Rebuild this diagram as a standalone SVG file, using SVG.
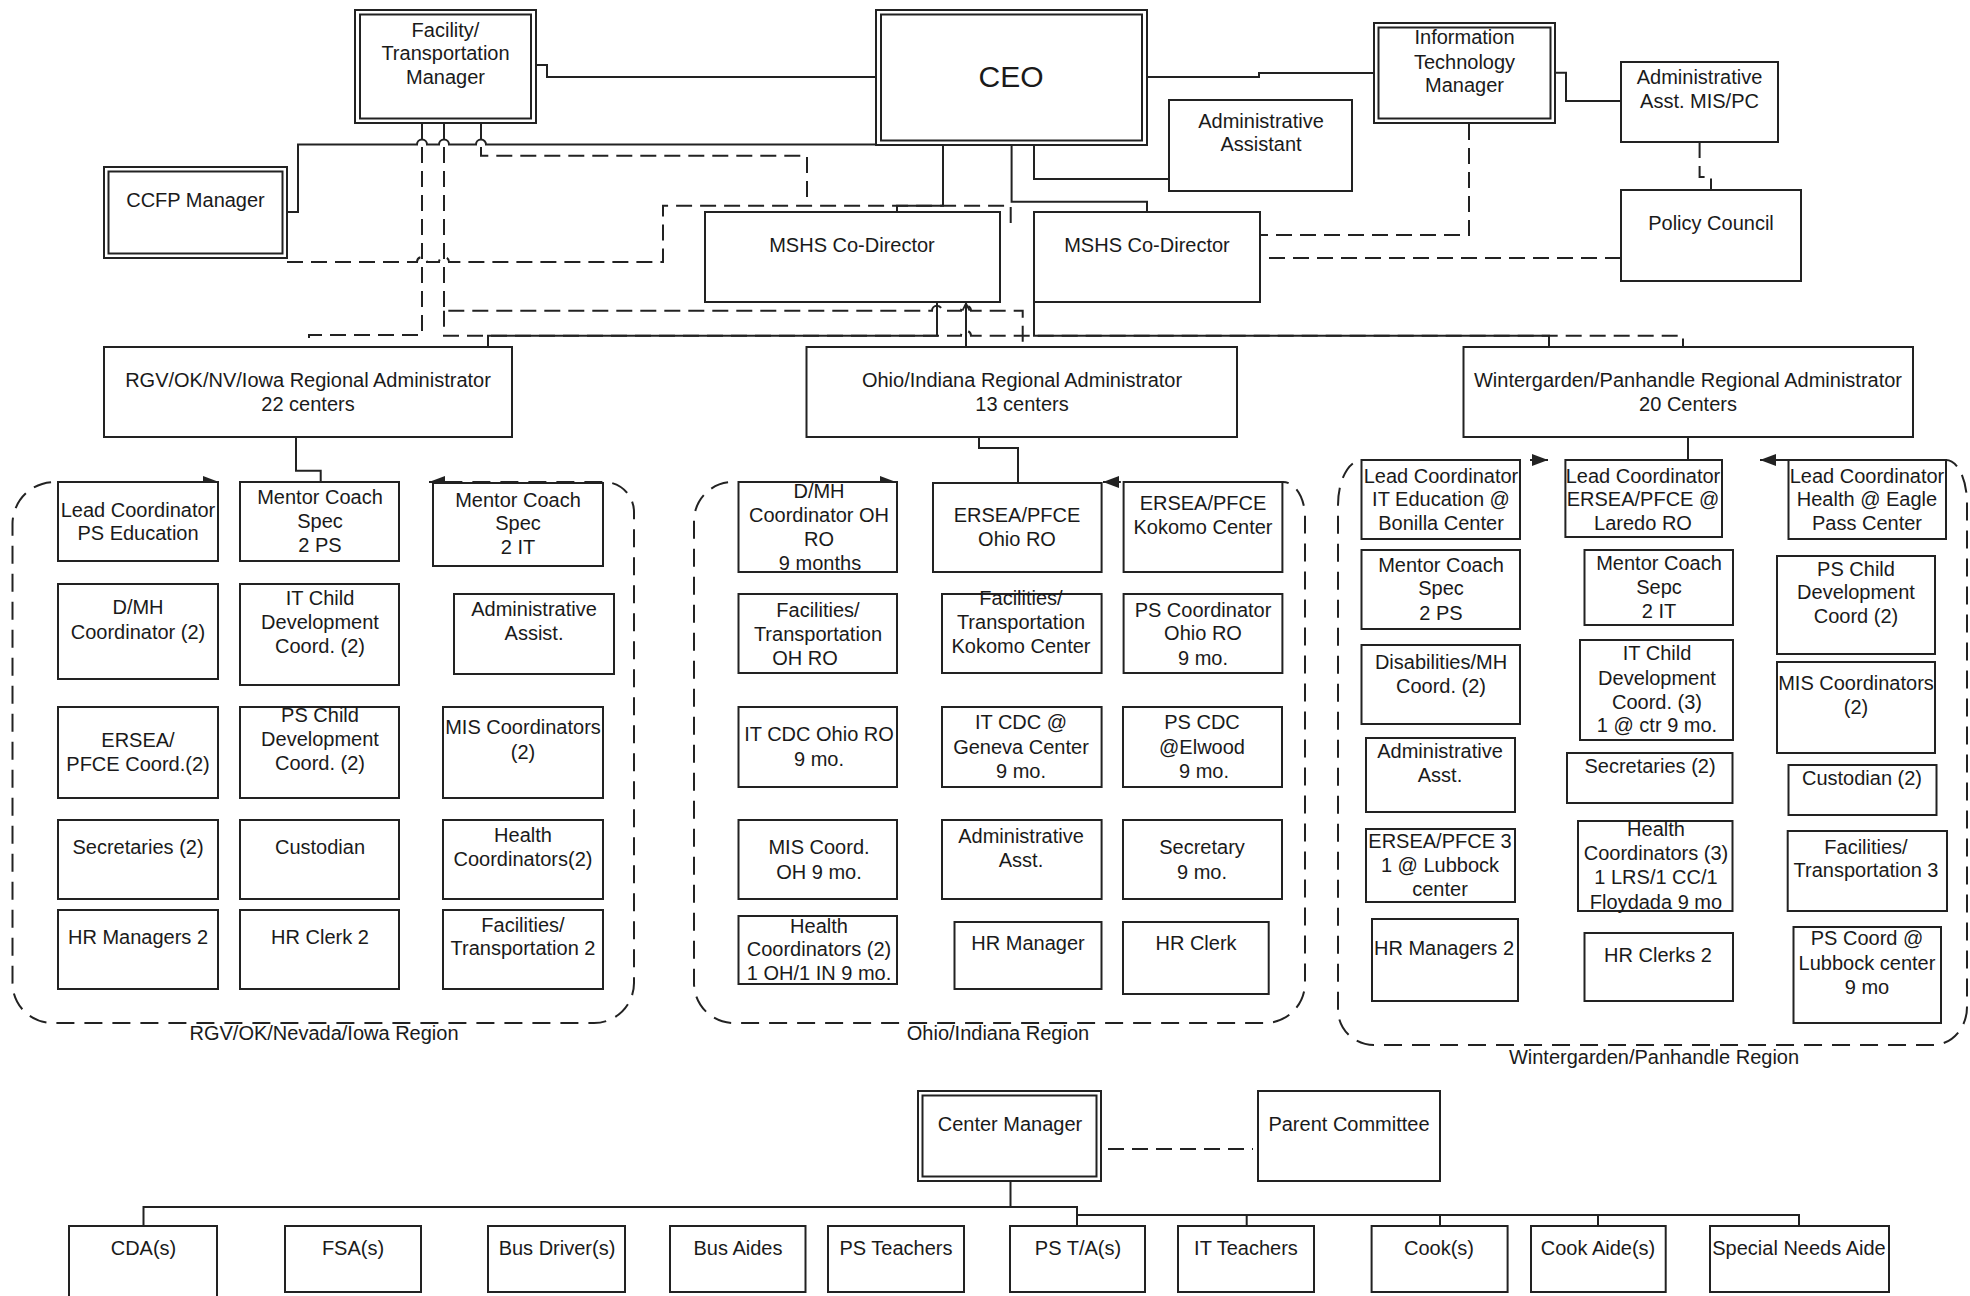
<svg xmlns="http://www.w3.org/2000/svg" width="1970" height="1296" viewBox="0 0 1970 1296">
<style>
.box{fill:#fff;stroke:#222;stroke-width:2}
.in{fill:none;stroke:#222;stroke-width:2}
.t{font-family:"Liberation Sans",Arial,sans-serif;font-size:20px;fill:#1a1a1a;text-anchor:middle}
.c{fill:none;stroke:#222;stroke-width:2}
.d{fill:none;stroke:#222;stroke-width:2;stroke-dasharray:16 8}
.r{fill:none;stroke:#222;stroke-width:2;stroke-dasharray:18 10}
</style>
<defs>
<marker id="tri" viewBox="0 0 10 10" refX="10" refY="5" markerWidth="16" markerHeight="12" markerUnits="userSpaceOnUse" orient="auto-start-reverse" preserveAspectRatio="none"><path d="M0,0 L10,5 L0,10 z" fill="#222"/></marker>
<marker id="chev" viewBox="0 0 10 10" refX="9" refY="5" markerWidth="9" markerHeight="9" markerUnits="userSpaceOnUse" orient="auto"><path d="M1,1 L9,5 L1,9" fill="none" stroke="#222" stroke-width="2"/></marker>
</defs>
<rect width="1970" height="1296" fill="#fff"/>

<g id="regions">
<g id="region-rgv"><path class="r" d="M219 482 H55 A42 42 0 0 0 12.5 524 V983 A40 40 0 0 0 52.5 1023 H594 A40 40 0 0 0 634 983 V512 A30 30 0 0 0 604 482 H429" marker-start="url(#tri)" marker-end="url(#tri)"/><text class="t" x="324" y="1040">RGV/OK/Nevada/Iowa Region</text></g>
<g id="region-ohio"><path class="r" d="M896 482 H733 A39 39 0 0 0 694 521 V983 A40 40 0 0 0 734 1023 H1265 A40 40 0 0 0 1305 983 V517 A22 35 0 0 0 1283 482 H1103" marker-start="url(#tri)" marker-end="url(#tri)"/><text class="t" x="998" y="1040">Ohio/Indiana Region</text></g>
<g id="region-winter"><path class="r" d="M1548 460 H1362 A24 45 0 0 0 1338 505 V1010 A36 35 0 0 0 1374 1045 H1933 A34 38 0 0 0 1967 1007 V503 A21 43 0 0 0 1946 460 H1760" marker-start="url(#tri)" marker-end="url(#tri)"/><text class="t" x="1654" y="1064">Wintergarden/Panhandle Region</text></g>
</g>

<g id="connectors">
<path class="c" d="M536 65 H547 V77 H876"/>
<path class="c" d="M287 212 H298 V144.5 H417 a5 5 0 0 1 10 0 H439 a5 5 0 0 1 10 0 H476 a5 5 0 0 1 10 0 H876"/>
<path class="c" d="M943 145 V205.7 H897 V212"/>
<path class="c" d="M1011.6 145 V201.7 H1147 V212"/>
<path class="c" d="M1034 145 V179 H1169"/>
<path class="c" d="M1147 77 H1259 V73 H1374"/>
<path class="c" d="M1555 72.7 H1566 V101 H1621"/>
<path class="c" d="M937 302 V335.7 H488 V347"/>
<path class="c" d="M1034 302 V335.7 H1549 V347"/>
<path class="c" d="M966 350 V303.5" marker-end="url(#chev)"/>
<path class="c" d="M296 437 V470.7 H320.7 V482"/>
<path class="c" d="M979 437 V448 H1018 V483"/>
<path class="c" d="M1688 437 V460"/>
<path class="c" d="M1010.5 1181 V1207 H143.5 V1226 M1010.5 1207 H1077 V1226 M1077 1215 H1799 V1226 M1246.7 1215 V1226 M1440 1215 V1226 M1598 1215 V1226"/>
<path class="d" d="M422 123 V335 H309 V347"/>
<path class="d" d="M444 123 V310.7 H932 a5 5 0 0 1 10 0 H961 a5 5 0 0 1 10 0 H1022.7 V347"/>
<path class="d" d="M444 310.7 V335.7 H961 a5 5 0 0 1 10 0 H1683 V347"/>
<path class="d" d="M287 262 H417 a5 5 0 0 1 10 0 H439 a5 5 0 0 1 10 0 H663 V205.7 H1010.7 V225"/>
<path class="d" d="M481 123 V155.7 H807 V205.7"/>
<path class="d" d="M1469 100 V235 H1260"/>
<path class="d" d="M1621 258 H1260"/>
<path class="d" d="M1699.6 142 V177 H1711 V190"/>
<path class="d" d="M1108 1149 H1253"/>
</g>

<g id="facility-manager"><rect class="box" x="355" y="10" width="181" height="113"/><rect class="in" x="360" y="14.5" width="171" height="104"/><text class="t"><tspan x="445.5" y="37">Facility/</tspan><tspan x="445.5" y="60">Transportation</tspan><tspan x="445.5" y="84">Manager</tspan></text></g>
<g id="ceo"><rect class="box" x="876" y="10" width="271" height="135"/><rect class="in" x="881" y="14.5" width="261" height="126"/><text class="t" style="font-size:30px" x="1011" y="87">CEO</text></g>
<g id="it-manager"><rect class="box" x="1374" y="23" width="181" height="100"/><rect class="in" x="1378.5" y="27.5" width="172" height="91"/><text class="t"><tspan x="1464.5" y="44">Information</tspan><tspan x="1464.5" y="69">Technology</tspan><tspan x="1464.5" y="92">Manager</tspan></text></g>
<g id="admin-asst-mis"><rect class="box" x="1621" y="62" width="157" height="80"/><text class="t"><tspan x="1699.5" y="84">Administrative</tspan><tspan x="1699.5" y="108">Asst. MIS/PC</tspan></text></g>
<g id="policy-council"><rect class="box" x="1621" y="190" width="180" height="91"/><text class="t" x="1711" y="230">Policy Council</text></g>
<g id="admin-assistant"><rect class="box" x="1169" y="100" width="183" height="91"/><text class="t"><tspan x="1261" y="128">Administrative</tspan><tspan x="1261" y="151">Assistant</tspan></text></g>
<g id="ccfp-manager"><rect class="box" x="104" y="167" width="183" height="91"/><rect class="in" x="108.5" y="171.5" width="174" height="82"/><text class="t" x="195.5" y="207">CCFP Manager</text></g>
<g id="mshs-codirector-1"><rect class="box" x="705" y="212" width="295" height="90"/><text class="t" x="852" y="252">MSHS Co-Director</text></g>
<g id="mshs-codirector-2"><rect class="box" x="1034" y="212" width="226" height="90"/><text class="t" x="1147" y="252">MSHS Co-Director</text></g>

<g id="rgv-admin"><rect class="box" x="104" y="347" width="408" height="90"/><text class="t"><tspan x="308" y="387">RGV/OK/NV/Iowa Regional Administrator</tspan><tspan x="308" y="411">22 centers</tspan></text></g>
<g id="ohio-admin"><rect class="box" x="806.5" y="347" width="430.5" height="90"/><text class="t"><tspan x="1022" y="387">Ohio/Indiana Regional Administrator</tspan><tspan x="1022" y="411">13 centers</tspan></text></g>
<g id="winter-admin"><rect class="box" x="1463.5" y="347" width="449.5" height="90"/><text class="t"><tspan x="1688" y="387">Wintergarden/Panhandle Regional Administrator</tspan><tspan x="1688" y="411">20 Centers</tspan></text></g>

<g id="rgv-lead-ps"><rect class="box" x="58" y="482" width="160" height="79"/><text class="t"><tspan x="138" y="517">Lead Coordinator</tspan><tspan x="138" y="540">PS Education</tspan></text></g>
<g id="rgv-mentor-ps"><rect class="box" x="240" y="482" width="159" height="79"/><text class="t"><tspan x="320" y="504">Mentor Coach</tspan><tspan x="320" y="528">Spec</tspan><tspan x="320" y="552">2 PS</tspan></text></g>
<g id="rgv-mentor-it"><rect class="box" x="433" y="483" width="170" height="83"/><text class="t"><tspan x="518" y="507">Mentor Coach</tspan><tspan x="518" y="530">Spec</tspan><tspan x="518" y="554">2 IT</tspan></text></g>
<g id="rgv-dmh"><rect class="box" x="58" y="584" width="160" height="95"/><text class="t"><tspan x="138" y="614">D/MH</tspan><tspan x="138" y="639">Coordinator (2)</tspan></text></g>
<g id="rgv-itcd"><rect class="box" x="240" y="584" width="159" height="101"/><text class="t"><tspan x="320" y="605">IT Child</tspan><tspan x="320" y="629">Development</tspan><tspan x="320" y="653">Coord. (2)</tspan></text></g>
<g id="rgv-admin-assist"><rect class="box" x="454" y="594" width="160" height="80"/><text class="t"><tspan x="534" y="616">Administrative</tspan><tspan x="534" y="640">Assist.</tspan></text></g>
<g id="rgv-ersea"><rect class="box" x="58" y="707" width="160" height="91"/><text class="t"><tspan x="138" y="747">ERSEA/</tspan><tspan x="138" y="771">PFCE Coord.(2)</tspan></text></g>
<g id="rgv-pscd"><rect class="box" x="240" y="707" width="159" height="91"/><text class="t"><tspan x="320" y="722">PS Child</tspan><tspan x="320" y="746">Development</tspan><tspan x="320" y="770">Coord. (2)</tspan></text></g>
<g id="rgv-mis"><rect class="box" x="443" y="707" width="160" height="91"/><text class="t"><tspan x="523" y="734">MIS Coordinators</tspan><tspan x="523" y="759">(2)</tspan></text></g>
<g id="rgv-secretaries"><rect class="box" x="58" y="820" width="160" height="79"/><text class="t" x="138" y="854">Secretaries (2)</text></g>
<g id="rgv-custodian"><rect class="box" x="240" y="820" width="159" height="79"/><text class="t" x="320" y="854">Custodian</text></g>
<g id="rgv-health"><rect class="box" x="443" y="820" width="160" height="79"/><text class="t"><tspan x="523" y="842">Health</tspan><tspan x="523" y="866">Coordinators(2)</tspan></text></g>
<g id="rgv-hr-managers"><rect class="box" x="58" y="910" width="160" height="79"/><text class="t" x="138" y="944">HR Managers 2</text></g>
<g id="rgv-hr-clerk"><rect class="box" x="240" y="910" width="159" height="79"/><text class="t" x="320" y="944">HR Clerk 2</text></g>
<g id="rgv-facilities"><rect class="box" x="443" y="910" width="160" height="79"/><text class="t"><tspan x="523" y="932">Facilities/</tspan><tspan x="523" y="955">Transportation 2</tspan></text></g>

<g id="oh-dmh"><rect class="box" x="738.5" y="482" width="158.5" height="90"/><text class="t"><tspan x="819" y="498">D/MH</tspan><tspan x="819" y="522">Coordinator OH</tspan><tspan x="819" y="546">RO</tspan><tspan x="820" y="570">9 months</tspan></text></g>
<g id="oh-ersea-ro"><rect class="box" x="933" y="483" width="168.6" height="89"/><text class="t"><tspan x="1017" y="522">ERSEA/PFCE</tspan><tspan x="1017" y="546">Ohio RO</tspan></text></g>
<g id="oh-ersea-kokomo"><rect class="box" x="1123.6" y="482" width="158.8" height="90"/><text class="t"><tspan x="1203" y="510">ERSEA/PFCE</tspan><tspan x="1203" y="534">Kokomo Center</tspan></text></g>
<g id="oh-facilities-ro"><rect class="box" x="738.5" y="594" width="158.5" height="79"/><text class="t"><tspan x="818" y="617">Facilities/</tspan><tspan x="818" y="641">Transportation</tspan><tspan x="805" y="665">OH RO</tspan></text></g>
<g id="oh-facilities-kokomo"><rect class="box" x="942" y="594" width="159.6" height="79"/><text class="t"><tspan x="1021" y="605">Facilities/</tspan><tspan x="1021" y="629">Transportation</tspan><tspan x="1021" y="653">Kokomo Center</tspan></text></g>
<g id="oh-ps-coord"><rect class="box" x="1123.6" y="594" width="158.8" height="79"/><text class="t"><tspan x="1203" y="617">PS Coordinator</tspan><tspan x="1203" y="640">Ohio RO</tspan><tspan x="1203" y="665">9 mo.</tspan></text></g>
<g id="oh-itcdc-ro"><rect class="box" x="738.5" y="707" width="158.5" height="80"/><text class="t"><tspan x="819" y="741">IT CDC Ohio RO</tspan><tspan x="819" y="766">9 mo.</tspan></text></g>
<g id="oh-itcdc-geneva"><rect class="box" x="942" y="707" width="159.6" height="80"/><text class="t"><tspan x="1021" y="729">IT CDC @</tspan><tspan x="1021" y="754">Geneva Center</tspan><tspan x="1021" y="778">9 mo.</tspan></text></g>
<g id="oh-pscdc-elwood"><rect class="box" x="1123" y="707" width="159" height="80"/><text class="t"><tspan x="1202" y="729">PS CDC</tspan><tspan x="1202" y="754">@Elwood</tspan><tspan x="1204" y="778">9 mo.</tspan></text></g>
<g id="oh-mis"><rect class="box" x="738.5" y="820" width="158.5" height="79"/><text class="t"><tspan x="819" y="854">MIS Coord.</tspan><tspan x="819" y="879">OH 9 mo.</tspan></text></g>
<g id="oh-admin-asst"><rect class="box" x="942" y="820" width="159.6" height="79"/><text class="t"><tspan x="1021" y="843">Administrative</tspan><tspan x="1021" y="867">Asst.</tspan></text></g>
<g id="oh-secretary"><rect class="box" x="1123" y="820" width="159" height="79"/><text class="t"><tspan x="1202" y="854">Secretary</tspan><tspan x="1202" y="879">9 mo.</tspan></text></g>
<g id="oh-health"><rect class="box" x="738.5" y="916" width="158.5" height="68"/><text class="t"><tspan x="819" y="933">Health</tspan><tspan x="819" y="956">Coordinators (2)</tspan><tspan x="819" y="980">1 OH/1 IN 9 mo.</tspan></text></g>
<g id="oh-hr-manager"><rect class="box" x="954.5" y="922" width="147" height="67"/><text class="t" x="1028" y="950">HR Manager</text></g>
<g id="oh-hr-clerk"><rect class="box" x="1123" y="922" width="145.7" height="72"/><text class="t" x="1196" y="950">HR Clerk</text></g>

<g id="wp-lead-it"><rect class="box" x="1361.5" y="460" width="158.5" height="79"/><text class="t"><tspan x="1441" y="483">Lead Coordinator</tspan><tspan x="1441" y="506">IT Education @</tspan><tspan x="1441" y="530">Bonilla Center</tspan></text></g>
<g id="wp-lead-ersea"><rect class="box" x="1565.4" y="460" width="156.6" height="77"/><text class="t"><tspan x="1643" y="483">Lead Coordinator</tspan><tspan x="1643" y="506">ERSEA/PFCE @</tspan><tspan x="1643" y="530">Laredo RO</tspan></text></g>
<g id="wp-lead-health"><rect class="box" x="1788.5" y="460" width="157.5" height="79"/><text class="t"><tspan x="1867" y="483">Lead Coordinator</tspan><tspan x="1867" y="506">Health @ Eagle</tspan><tspan x="1867" y="530">Pass Center</tspan></text></g>
<g id="wp-mentor-ps"><rect class="box" x="1361.5" y="550" width="158.5" height="79"/><text class="t"><tspan x="1441" y="572">Mentor Coach</tspan><tspan x="1441" y="595">Spec</tspan><tspan x="1441" y="620">2 PS</tspan></text></g>
<g id="wp-mentor-it"><rect class="box" x="1584.5" y="550" width="148.5" height="75"/><text class="t"><tspan x="1659" y="570">Mentor Coach</tspan><tspan x="1659" y="594">Sepc</tspan><tspan x="1659" y="618">2 IT</tspan></text></g>
<g id="wp-pscd"><rect class="box" x="1777" y="556" width="158" height="98"/><text class="t"><tspan x="1856" y="576">PS Child</tspan><tspan x="1856" y="599">Development</tspan><tspan x="1856" y="623">Coord (2)</tspan></text></g>
<g id="wp-dmh"><rect class="box" x="1361.5" y="645" width="158.5" height="79"/><text class="t"><tspan x="1441" y="669">Disabilities/MH</tspan><tspan x="1441" y="693">Coord. (2)</tspan></text></g>
<g id="wp-itcd"><rect class="box" x="1580" y="640" width="153" height="100"/><text class="t"><tspan x="1657" y="660">IT Child</tspan><tspan x="1657" y="685">Development</tspan><tspan x="1657" y="709">Coord. (3)</tspan><tspan x="1657" y="732">1 @ ctr 9 mo.</tspan></text></g>
<g id="wp-mis"><rect class="box" x="1777" y="662" width="158" height="91"/><text class="t"><tspan x="1856" y="690">MIS Coordinators</tspan><tspan x="1856" y="714">(2)</tspan></text></g>
<g id="wp-admin-asst"><rect class="box" x="1366" y="738" width="149" height="74"/><text class="t"><tspan x="1440" y="758">Administrative</tspan><tspan x="1440" y="782">Asst.</tspan></text></g>
<g id="wp-secretaries"><rect class="box" x="1567" y="753" width="165.5" height="50"/><text class="t" x="1650" y="773">Secretaries (2)</text></g>
<g id="wp-custodian"><rect class="box" x="1788.5" y="765" width="148" height="50"/><text class="t" x="1862" y="785">Custodian (2)</text></g>
<g id="wp-ersea"><rect class="box" x="1366" y="829" width="149" height="73"/><text class="t"><tspan x="1440" y="848">ERSEA/PFCE 3</tspan><tspan x="1440" y="872">1 @ Lubbock</tspan><tspan x="1440" y="896">center</tspan></text></g>
<g id="wp-health"><rect class="box" x="1578" y="821" width="154.5" height="90"/><text class="t"><tspan x="1656" y="836">Health</tspan><tspan x="1656" y="860">Coordinators (3)</tspan><tspan x="1656" y="884">1 LRS/1 CC/1</tspan><tspan x="1656" y="909">Floydada 9 mo</tspan></text></g>
<g id="wp-facilities"><rect class="box" x="1787.7" y="831" width="159.3" height="80"/><text class="t"><tspan x="1866" y="854">Facilities/</tspan><tspan x="1866" y="877">Transportation 3</tspan></text></g>
<g id="wp-hr-managers"><rect class="box" x="1372" y="919" width="146" height="82"/><text class="t" x="1444" y="955">HR Managers 2</text></g>
<g id="wp-hr-clerks"><rect class="box" x="1584.5" y="933" width="148.5" height="68"/><text class="t" x="1658" y="962">HR Clerks 2</text></g>
<g id="wp-ps-coord"><rect class="box" x="1793.5" y="927" width="147.5" height="96"/><text class="t"><tspan x="1867" y="945">PS Coord @</tspan><tspan x="1867" y="970">Lubbock center</tspan><tspan x="1867" y="994">9 mo</tspan></text></g>

<g id="center-manager"><rect class="box" x="918" y="1091" width="183" height="90"/><rect class="in" x="922.5" y="1095.5" width="174" height="81"/><text class="t" x="1010" y="1131">Center Manager</text></g>
<g id="parent-committee"><rect class="box" x="1258" y="1091" width="182" height="90"/><text class="t" x="1349" y="1131">Parent Committee</text></g>

<g id="cdas"><rect class="box" x="69" y="1226" width="148" height="80"/><text class="t" x="143.5" y="1255">CDA(s)</text></g>
<g id="fsas"><rect class="box" x="285" y="1226" width="136" height="66"/><text class="t" x="353" y="1255">FSA(s)</text></g>
<g id="bus-drivers"><rect class="box" x="488" y="1226" width="137" height="66"/><text class="t" x="557" y="1255">Bus Driver(s)</text></g>
<g id="bus-aides"><rect class="box" x="670" y="1226" width="135.5" height="66"/><text class="t" x="738" y="1255">Bus Aides</text></g>
<g id="ps-teachers"><rect class="box" x="828" y="1226" width="136" height="66"/><text class="t" x="896" y="1255">PS Teachers</text></g>
<g id="ps-tas"><rect class="box" x="1010" y="1226" width="135" height="66"/><text class="t" x="1078" y="1255">PS T/A(s)</text></g>
<g id="it-teachers"><rect class="box" x="1178" y="1226" width="136" height="66"/><text class="t" x="1246" y="1255">IT Teachers</text></g>
<g id="cooks"><rect class="box" x="1371.6" y="1226" width="136" height="66"/><text class="t" x="1439" y="1255">Cook(s)</text></g>
<g id="cook-aides"><rect class="box" x="1531" y="1226" width="134.7" height="66"/><text class="t" x="1598" y="1255">Cook Aide(s)</text></g>
<g id="special-needs-aide"><rect class="box" x="1710" y="1226" width="179" height="66"/><text class="t" x="1799" y="1255">Special Needs Aide</text></g>
</svg>
